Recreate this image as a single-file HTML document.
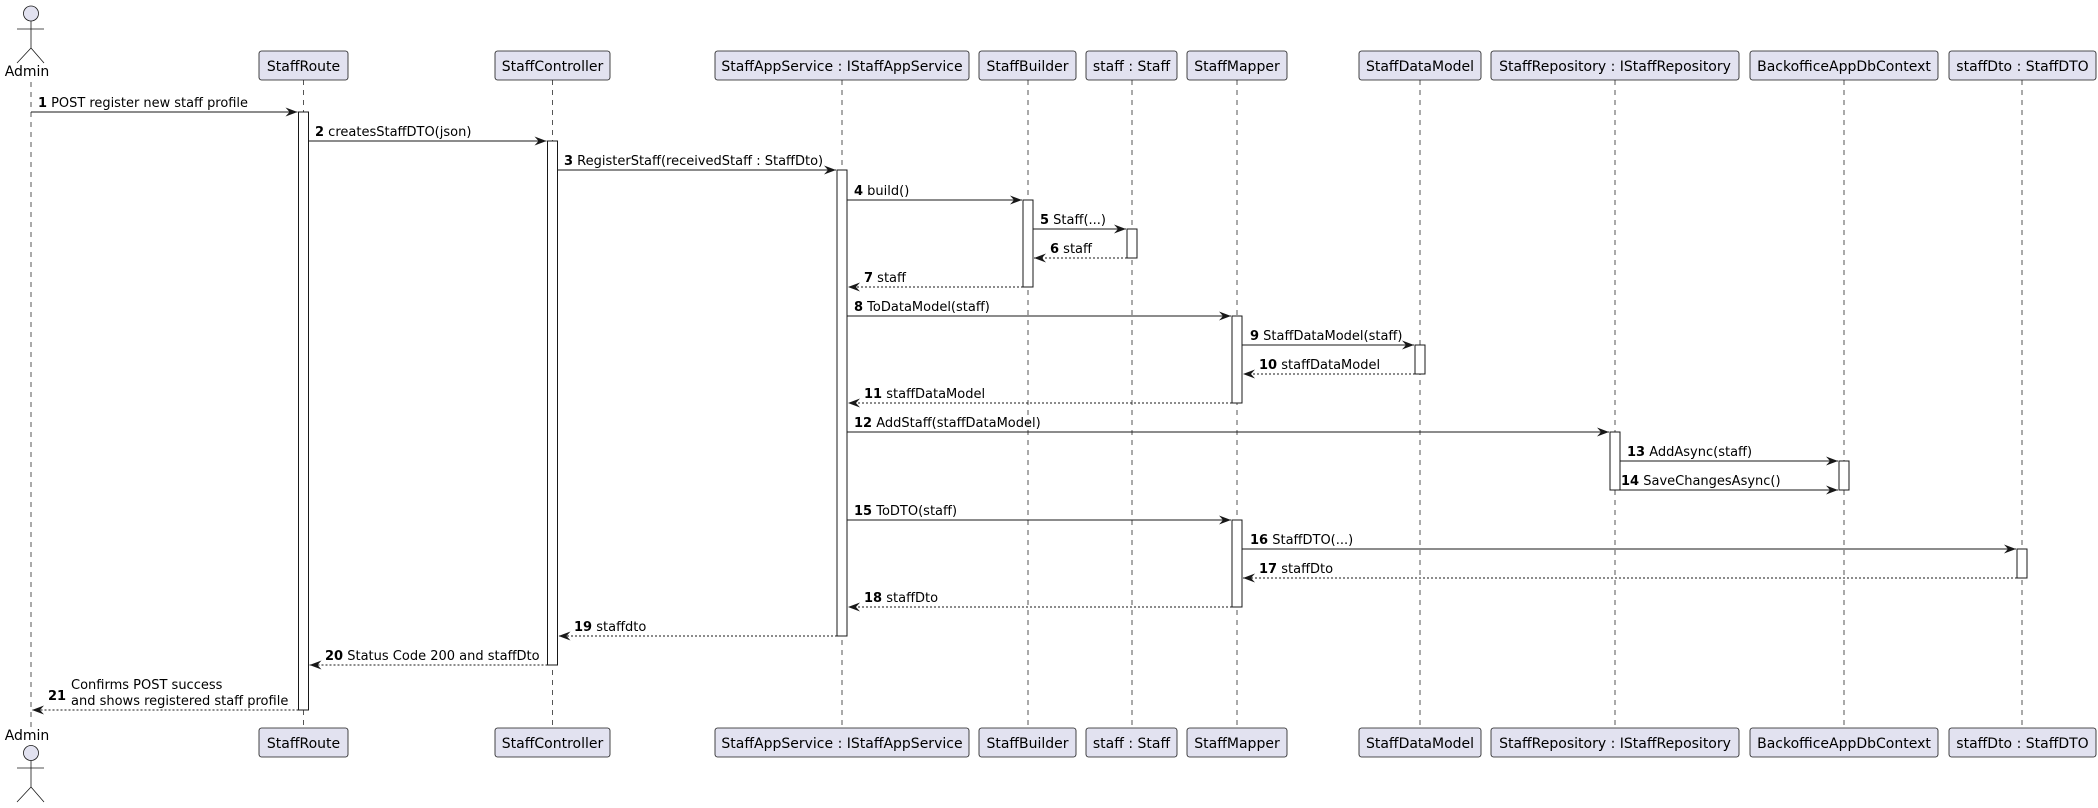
<!DOCTYPE html>
<html><head><meta charset="utf-8"><style>html,body{margin:0;padding:0;background:#fff}svg{display:block}</style></head>
<body>
<svg width="2098" height="808" viewBox="0 0 2098 808" xmlns="http://www.w3.org/2000/svg" font-family="'DejaVu Sans','Liberation Sans',sans-serif">
<defs>
<marker id="a" markerWidth="14" markerHeight="12" refX="12" refY="4.5" orient="auto" markerUnits="userSpaceOnUse"><path d="M0,0 L12,4.5 L0,9 L4,4.5 Z" fill="#181818"/></marker>
</defs>
<g stroke="#555" stroke-width="1" stroke-dasharray="5,5">
<line x1="31" y1="82" x2="31" y2="728"/>
<line x1="303.5" y1="80" x2="303.5" y2="728"/>
<line x1="552.5" y1="80" x2="552.5" y2="728"/>
<line x1="842" y1="80" x2="842" y2="728"/>
<line x1="1028" y1="80" x2="1028" y2="728"/>
<line x1="1132" y1="80" x2="1132" y2="728"/>
<line x1="1237" y1="80" x2="1237" y2="728"/>
<line x1="1420" y1="80" x2="1420" y2="728"/>
<line x1="1615" y1="80" x2="1615" y2="728"/>
<line x1="1844" y1="80" x2="1844" y2="728"/>
<line x1="2022" y1="80" x2="2022" y2="728"/>
</g>
<g fill="#E2E2F0" stroke="#181818" stroke-width="0.8">
<rect x="259" y="51" width="89" height="29" rx="2.5"/>
<rect x="495" y="51" width="115" height="29" rx="2.5"/>
<rect x="715" y="51" width="254" height="29" rx="2.5"/>
<rect x="979" y="51" width="97" height="29" rx="2.5"/>
<rect x="1086" y="51" width="91" height="29" rx="2.5"/>
<rect x="1187" y="51" width="100" height="29" rx="2.5"/>
<rect x="1359" y="51" width="122" height="29" rx="2.5"/>
<rect x="1491" y="51" width="248" height="29" rx="2.5"/>
<rect x="1750" y="51" width="188" height="29" rx="2.5"/>
<rect x="1949" y="51" width="147" height="29" rx="2.5"/>
<rect x="259" y="728" width="89" height="29" rx="2.5"/>
<rect x="495" y="728" width="115" height="29" rx="2.5"/>
<rect x="715" y="728" width="254" height="29" rx="2.5"/>
<rect x="979" y="728" width="97" height="29" rx="2.5"/>
<rect x="1086" y="728" width="91" height="29" rx="2.5"/>
<rect x="1187" y="728" width="100" height="29" rx="2.5"/>
<rect x="1359" y="728" width="122" height="29" rx="2.5"/>
<rect x="1491" y="728" width="248" height="29" rx="2.5"/>
<rect x="1750" y="728" width="188" height="29" rx="2.5"/>
<rect x="1949" y="728" width="147" height="29" rx="2.5"/>
<circle cx="31" cy="13.5" r="7.5"/>
<circle cx="31" cy="753" r="7.5"/>
</g>
<g stroke="#181818" stroke-width="0.8" fill="none">
<path d="M31,21 V48 M17,29 H44 M31,48 L17,63 M31,48 L44,63"/>
<path d="M31,760.5 V787 M17,768 H44 M31,787 L17,802 M31,787 L44,802"/>
</g>
<g font-size="14" fill="#000" text-anchor="middle">
<text x="27" y="76">Admin</text>
<text x="27" y="740">Admin</text>
<g>
<text x="303.5" y="71">StaffRoute</text><text x="552.5" y="71">StaffController</text><text x="842" y="71">StaffAppService : IStaffAppService</text><text x="1027.5" y="71">StaffBuilder</text><text x="1131.5" y="71">staff : Staff</text><text x="1237" y="71">StaffMapper</text><text x="1420" y="71">StaffDataModel</text><text x="1615" y="71">StaffRepository : IStaffRepository</text><text x="1844" y="71">BackofficeAppDbContext</text><text x="2022.5" y="71">staffDto : StaffDTO</text>
</g>
<g transform="translate(0,677)">
<text x="303.5" y="71">StaffRoute</text><text x="552.5" y="71">StaffController</text><text x="842" y="71">StaffAppService : IStaffAppService</text><text x="1027.5" y="71">StaffBuilder</text><text x="1131.5" y="71">staff : Staff</text><text x="1237" y="71">StaffMapper</text><text x="1420" y="71">StaffDataModel</text><text x="1615" y="71">StaffRepository : IStaffRepository</text><text x="1844" y="71">BackofficeAppDbContext</text><text x="2022.5" y="71">staffDto : StaffDTO</text>
</g>
</g>
<g fill="#fff" stroke="#181818" stroke-width="1">
<rect x="298.5" y="112" width="10" height="598"/>
<rect x="547.5" y="141" width="10" height="524"/>
<rect x="837" y="170" width="10" height="466"/>
<rect x="1023" y="200" width="10" height="87"/>
<rect x="1127" y="229" width="10" height="29"/>
<rect x="1232" y="316" width="10" height="87"/>
<rect x="1415" y="345" width="10" height="29"/>
<rect x="1610" y="432" width="10" height="58"/>
<rect x="1839" y="461" width="10" height="29"/>
<rect x="1232" y="520" width="10" height="87"/>
<rect x="2017" y="549" width="10" height="29"/>
</g>
<g stroke="#181818" stroke-width="1" marker-end="url(#a)">
<line x1="31" y1="112" x2="297.5" y2="112"/>
<line x1="308.5" y1="141" x2="546.5" y2="141"/>
<line x1="557.5" y1="170" x2="836" y2="170"/>
<line x1="847" y1="200" x2="1022" y2="200"/>
<line x1="1033" y1="229" x2="1126" y2="229"/>
<line x1="847" y1="316" x2="1231" y2="316"/>
<line x1="1242" y1="345" x2="1414" y2="345"/>
<line x1="847" y1="432" x2="1609" y2="432"/>
<line x1="1620" y1="461" x2="1838" y2="461"/>
<line x1="1620" y1="490" x2="1838" y2="490"/>
<line x1="847" y1="520" x2="1231" y2="520"/>
<line x1="1242" y1="549" x2="2016" y2="549"/>
<g stroke-dasharray="2,2">
<line x1="1127" y1="258" x2="1034" y2="258"/>
<line x1="1023" y1="287" x2="848" y2="287"/>
<line x1="1415" y1="374" x2="1243" y2="374"/>
<line x1="1232" y1="403" x2="848" y2="403"/>
<line x1="2017" y1="578" x2="1243" y2="578"/>
<line x1="1232" y1="607" x2="848" y2="607"/>
<line x1="837" y1="636" x2="558.5" y2="636"/>
<line x1="547.5" y1="665" x2="309.5" y2="665"/>
<line x1="298.5" y1="710" x2="32" y2="710"/>
</g>
</g>
<g font-size="13" fill="#000">
<text x="38" y="107" textLength="210" lengthAdjust="spacingAndGlyphs"><tspan font-weight="bold">1</tspan> POST register new staff profile</text>
<text x="315" y="136"><tspan font-weight="bold">2</tspan> createsStaffDTO(json)</text>
<text x="564" y="165"><tspan font-weight="bold">3</tspan> RegisterStaff(receivedStaff : StaffDto)</text>
<text x="854" y="195"><tspan font-weight="bold">4</tspan> build()</text>
<text x="1040" y="224"><tspan font-weight="bold">5</tspan> Staff(...)</text>
<text x="1050" y="253"><tspan font-weight="bold">6</tspan> staff</text>
<text x="864" y="282"><tspan font-weight="bold">7</tspan> staff</text>
<text x="854" y="311"><tspan font-weight="bold">8</tspan> ToDataModel(staff)</text>
<text x="1250" y="340"><tspan font-weight="bold">9</tspan> StaffDataModel(staff)</text>
<text x="1259" y="369"><tspan font-weight="bold">10</tspan> staffDataModel</text>
<text x="864" y="398"><tspan font-weight="bold">11</tspan> staffDataModel</text>
<text x="854" y="427"><tspan font-weight="bold">12</tspan> AddStaff(staffDataModel)</text>
<text x="1627" y="456"><tspan font-weight="bold">13</tspan> AddAsync(staff)</text>
<text x="1621" y="485"><tspan font-weight="bold">14</tspan> SaveChangesAsync()</text>
<text x="854" y="515"><tspan font-weight="bold">15</tspan> ToDTO(staff)</text>
<text x="1250" y="544"><tspan font-weight="bold">16</tspan> StaffDTO(...)</text>
<text x="1259" y="573"><tspan font-weight="bold">17</tspan> staffDto</text>
<text x="864" y="602"><tspan font-weight="bold">18</tspan> staffDto</text>
<text x="574" y="631"><tspan font-weight="bold">19</tspan> staffdto</text>
<text x="325" y="660"><tspan font-weight="bold">20</tspan> Status Code 200 and staffDto</text>
<text x="48" y="700" font-weight="bold">21</text>
<text x="71" y="689">Confirms POST success</text>
<text x="71" y="705"> and shows registered staff profile</text>
</g>
</svg>
</body></html>
